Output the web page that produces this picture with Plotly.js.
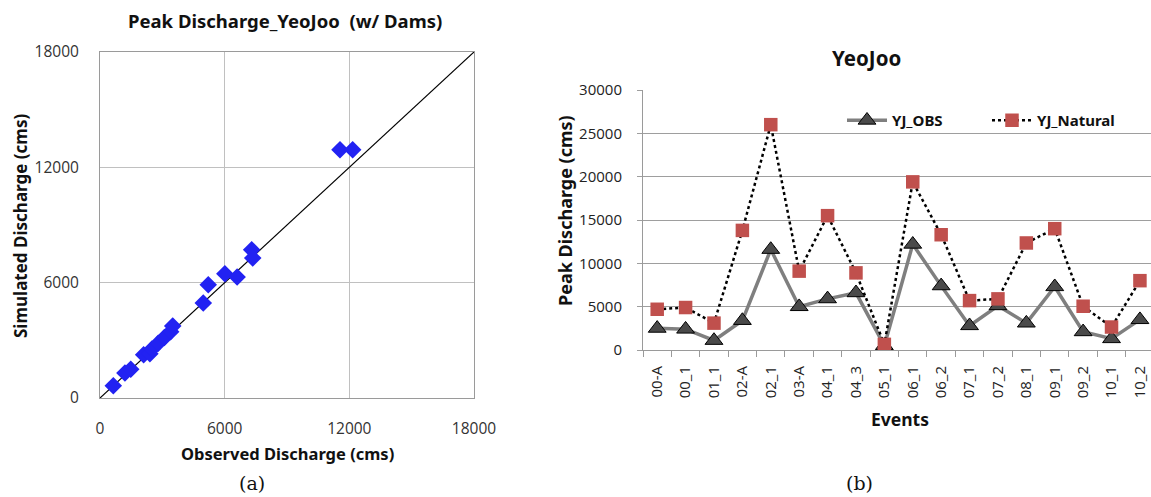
<!DOCTYPE html>
<html>
<head>
<meta charset="utf-8">
<script src="https://cdn.plot.ly/plotly-3.0.1.min.js"></script>
<style>
html,body{margin:0;padding:0;background:#fff;}
#chart{width:1151px;height:497px;}
</style>
</head>
<body>
<div id="chart"></div>
<script>
// ---- Data (a): scatter of observed vs simulated peak discharge ----
var observedQ  = [640, 1200, 1480, 2100, 2400, 2500, 2800, 3100, 3400, 3500, 4970, 5210, 6010, 6600, 7300, 7350, 11550, 12160];
var simulatedQ = [640, 1300, 1500, 2250, 2300, 2550, 2850, 3150, 3450, 3750, 4940, 5890, 6460, 6290, 7710, 7280, 12910, 12910];
var oneToOne   = [0, 18000];
var scatterTicks = [0, 6000, 12000, 18000];

// ---- Data (b): peak discharge per event ----
var events  = ['00-A','00_1','01_1','02-A','02_1','03-A','04_1','04_3','05_1','06_1','06_2','07_1','07_2','08_1','09_1','09_2','10_1','10_2'];
var yjObs     = [2500, 2400, 1100, 3400, 11600, 5000, 5900, 6600, 500, 12200, 7400, 2800, 5100, 3100, 7300, 2100, 1300, 3500];
var yjNatural = [4700, 4900, 3100, 13800, 26000, 9100, 15500, 8900, 650, 19400, 13300, 5700, 5900, 12350, 14000, 5050, 2650, 8000];
var peakTicks = [0, 5000, 10000, 15000, 20000, 25000, 30000];

var W = 1151, H = 497;
function px(x){ return x / W; }
function py(y){ return 1 - y / H; }

var font = "'Open Sans', 'Noto Sans', sans-serif";
var boldFont = "'Noto Sans', 'Open Sans', sans-serif";

var traces = [
  {
    x: oneToOne, y: oneToOne, xaxis: 'x', yaxis: 'y',
    mode: 'lines', line: {color: '#000', width: 1.2},
    showlegend: false, hoverinfo: 'skip'
  },
  {
    x: observedQ, y: simulatedQ, xaxis: 'x', yaxis: 'y',
    mode: 'markers', type: 'scatter',
    marker: {symbol: 'diamond', size: 13.5, color: '#2222f2', line: {width: 0}},
    showlegend: false
  },
  {
    x: events, y: yjObs, xaxis: 'x2', yaxis: 'y2',
    mode: 'lines+markers', name: 'YJ_OBS',
    line: {color: '#7f7f7f', width: 3.5},
    marker: {symbol: 'triangle-up', size: 15.5, color: '#4a4a4a', line: {color: '#000', width: 1}}
  },
  {
    x: events, y: yjNatural, xaxis: 'x2', yaxis: 'y2',
    mode: 'lines+markers', name: 'YJ_Natural',
    line: {color: '#000', width: 2.5, dash: 'dot'},
    marker: {symbol: 'square', size: 13.5, color: '#c0504d', line: {width: 0}}
  }
];

var gridA = '#c0c0c0';
var gridB = '#9e9e9e';

function ann(text, x, y, size, opts){
  var a = {text: text, x: px(x), y: py(y), xref: 'paper', yref: 'paper',
    xanchor: 'center', yanchor: 'middle', showarrow: false,
    font: {family: boldFont, size: size, color: '#111', weight: 'bold'}};
  for (var k in (opts || {})) a[k] = opts[k];
  return a;
}

var layout = {
  width: W, height: H,
  margin: {l: 0, r: 0, t: 0, b: 0},
  paper_bgcolor: '#fff', plot_bgcolor: '#fff',
  font: {family: font, size: 13, color: '#222'},
  showlegend: true,
  legend: {
    orientation: 'h', x: px(842), y: py(104), xanchor: 'left', yanchor: 'top',
    font: {family: boldFont, size: 15, color: '#111', weight: 'bold'},
    bgcolor: 'rgba(0,0,0,0)', itemwidth: 40, tracegroupgap: 0,
    entrywidth: 90, entrywidthmode: 'pixels'
  },
  xaxis: {
    domain: [px(100), px(474)], range: [0, 18000],
    tickvals: scatterTicks, tickformat: 'd', ticks: '', ticklabelstandoff: 16,
    showgrid: true, gridcolor: gridA, gridwidth: 1,
    showline: true, linecolor: '#9a9a9a', linewidth: 1, mirror: true,
    zeroline: false, tickfont: {size: 15.5, color: '#333'}, fixedrange: true
  },
  yaxis: {
    domain: [py(398), py(52)], range: [0, 18000],
    tickvals: scatterTicks, tickformat: 'd', ticks: '', ticklabelstandoff: 17,
    showgrid: true, gridcolor: gridA, gridwidth: 1,
    showline: true, linecolor: '#9a9a9a', linewidth: 1, mirror: true,
    zeroline: false, tickfont: {size: 15.5, color: '#333'}, fixedrange: true
  },
  xaxis2: {
    domain: [px(643), 1], type: 'category', range: [-0.5, 17.39],
    tickangle: -90, tickson: 'boundaries', ticks: 'outside', ticklen: 6, tickcolor: '#9a9a9a',
    ticklabelstandoff: 9,
    showgrid: false, showline: true, linecolor: '#9a9a9a', linewidth: 1,
    tickfont: {size: 15, color: '#222'}, anchor: 'y2', fixedrange: true
  },
  yaxis2: {
    domain: [py(350), py(90)], range: [0, 30000],
    tickvals: peakTicks, tickformat: 'd', ticks: 'outside', ticklen: 5, tickcolor: gridB,
    ticklabelstandoff: 12,
    showgrid: true, gridcolor: gridB, gridwidth: 1,
    showline: true, linecolor: '#9a9a9a', linewidth: 1,
    zeroline: false, tickfont: {size: 15, color: '#222'}, anchor: 'x2', fixedrange: true
  },
  annotations: [
    ann('Peak Discharge_YeoJoo\u00a0 (w/ Dams)', 285, 21, 18.5),
    ann('Simulated Discharge (cms)', 20, 226, 17, {textangle: -90}),
    ann('Observed Discharge (cms)', 287, 453, 16.5),
    ann('(a)', 252, 483, 19, {font: {family: "'DejaVu Serif', serif", size: 19, color: '#111'}}),
    ann('YeoJoo', 866, 58, 20.5),
    ann('Peak Discharge (cms)', 565, 211, 18, {textangle: -90}),
    ann('Events', 900, 419, 17.5),
    ann('(b)', 860, 483, 19, {font: {family: "'DejaVu Serif', serif", size: 19, color: '#111'}})
  ]
};

Plotly.newPlot('chart', traces, layout, {displayModeBar: false, staticPlot: true});
</script>
</body>
</html>
